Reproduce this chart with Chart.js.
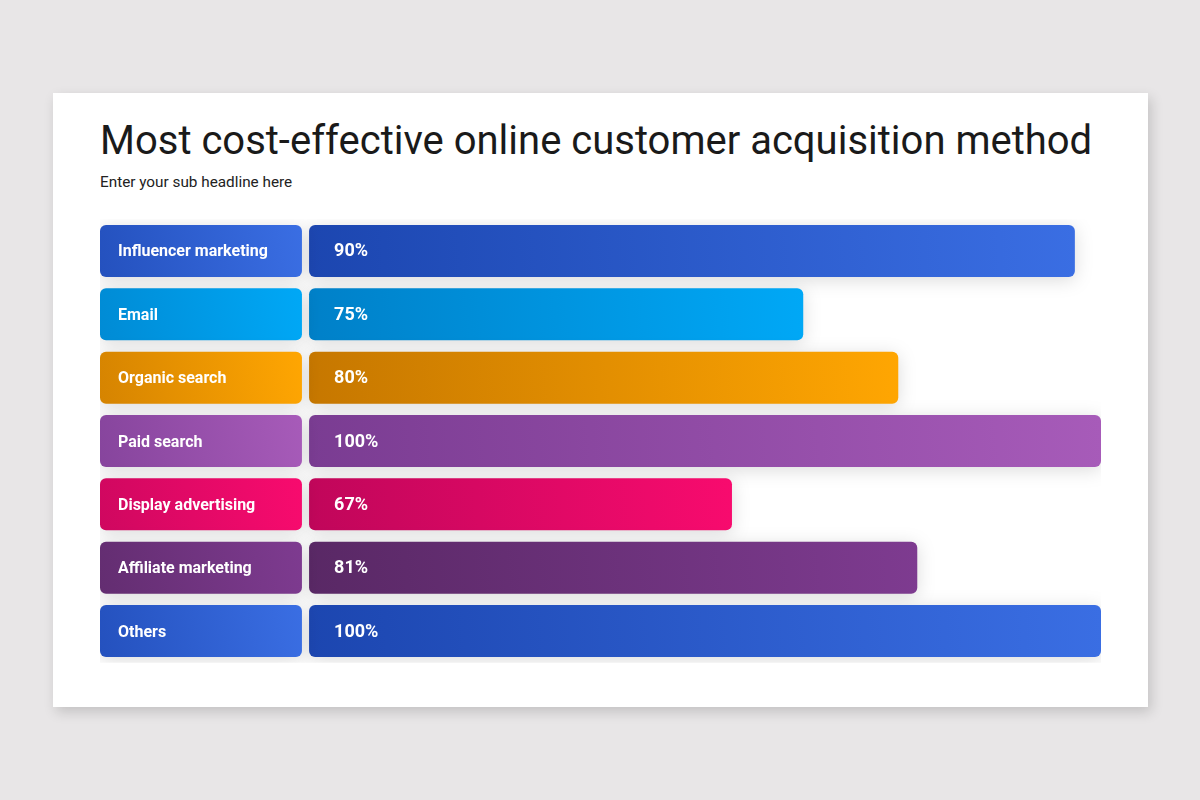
<!DOCTYPE html>
<html>
<head>
<meta charset="utf-8">
<script src="https://cdn.jsdelivr.net/npm/chart.js@4"></script>
<style>
  html, body { margin: 0; padding: 0; width: 1200px; height: 800px; background: #e8e6e7; overflow: hidden; }
  #card { position: absolute; left: 53px; top: 93px; width: 1095px; height: 614px; background: #ffffff;
          box-shadow: 3px 5px 12px rgba(0,0,0,0.16); }
  #title { position: absolute; left: 100px; top: 117px; font-family: Roboto, sans-serif; font-weight: 400;
           font-size: 40px; line-height: 48px; color: #1a1a1a; white-space: nowrap; }
  #subtitle { position: absolute; left: 100px; top: 172px; font-family: Roboto, sans-serif; font-weight: 400;
              font-size: 15.3px; line-height: 20px; color: #222; white-space: nowrap; }
  #wrap { position: absolute; left: 0; top: 0; width: 1200px; height: 800px; }
</style>
</head>
<body>
<div id="card"></div>
<div id="title">Most cost-effective online customer acquisition method</div>
<div id="subtitle">Enter your sub headline here</div>
<div id="wrap"><canvas id="c" width="1200" height="800"></canvas></div>
<script>
// ---- data ----
const CATEGORIES = ['Influencer marketing', 'Email', 'Organic search', 'Paid search', 'Display advertising', 'Affiliate marketing', 'Others'];
const VALUE_LABELS = ['90%', '75%', '80%', '100%', '67%', '81%', '100%'];
const BAR_LENGTHS = [96.7, 62.4, 74.4, 100, 53.4, 76.8, 100];
const COLORS_DARK  = ['#1c46b0', '#0080c8', '#c67700', '#7a3c92', '#c0065a', '#592865', '#1c46b0'];
const COLORS_LIGHT = ['#3a6ee3', '#00a8f6', '#ffa602', '#a75bb9', '#f80b6e', '#7e3b90', '#3a6ee3'];

// ---- layout constants ----
const AXIS_MIN = -26.4;
const LABEL_BOX = [-26.4, -0.9];

const labelBoxData = CATEGORIES.map(() => LABEL_BOX.slice());
const valueData = BAR_LENGTHS.map(v => [0, v]);

function makeFill(extendLeft) {
  return function (ctx) {
    const i = ctx.dataIndex;
    if (ctx.type !== 'data') return COLORS_DARK[0];
    const chart = ctx.chart;
    if (!chart.chartArea) return COLORS_DARK[i];
    const xs = chart.scales.x, ys = chart.scales.y;
    const raw = ctx.raw;
    const x0 = xs.getPixelForValue(raw[0]) - extendLeft;
    const x1 = xs.getPixelForValue(raw[1]);
    const yc = ys.getPixelForValue(i);
    const g = chart.ctx.createLinearGradient(x0, yc + 26, x1, yc - 26);
    g.addColorStop(0, COLORS_DARK[i]);
    g.addColorStop(1, COLORS_LIGHT[i]);
    return g;
  };
}

const shadowPlugin = {
  id: 'barShadow',
  beforeDatasetsDraw(chart) {
    const c = chart.ctx;
    c.save();
    c.shadowColor = 'rgba(0,0,0,0.14)';
    c.shadowBlur = 18;
    c.shadowOffsetX = 0;
    c.shadowOffsetY = 3;
  },
  afterDatasetsDraw(chart) {
    chart.ctx.restore();
    const c = chart.ctx;
    const meta = chart.getDatasetMeta(1);
    c.save();
    c.fillStyle = '#ffffff';
    c.font = 'bold 18px Roboto, sans-serif';
    c.textBaseline = 'middle';
    c.textAlign = 'left';
    meta.data.forEach((el, i) => {
      c.fillText(VALUE_LABELS[i], el.base + 25, el.y + 1);
    });
    c.restore();
  }
};

new Chart(document.getElementById('c'), {
  type: 'bar',
  data: {
    labels: CATEGORIES,
    datasets: [
      {
        label: 'Method',
        data: labelBoxData,
        backgroundColor: makeFill(80),
        borderRadius: 6,
        borderSkipped: false,
        grouped: false,
        barPercentage: 0.821,
        categoryPercentage: 1
      },
      {
        label: 'Share',
        data: valueData,
        backgroundColor: makeFill(0),
        borderRadius: 6,
        borderSkipped: false,
        grouped: false,
        barPercentage: 0.821,
        categoryPercentage: 1
      }
    ]
  },
  options: {
    indexAxis: 'y',
    responsive: false,
    animation: false,
    devicePixelRatio: 1,
    layout: { padding: { left: 100, right: 99, top: 219.3, bottom: 137.3 } },
    plugins: { legend: { display: false }, tooltip: { enabled: false } },
    scales: {
      x: {
        type: 'linear',
        min: AXIS_MIN,
        max: 100,
        display: false
      },
      y: {
        type: 'category',
        afterFit(scale) { scale.width = 0; },
        grid: { display: false, drawTicks: false },
        border: { display: false },
        ticks: {
          mirror: true,
          padding: 18,
          labelOffset: 1.5,
          z: 1,
          color: '#ffffff',
          font: { family: 'Roboto, sans-serif', weight: 'bold', size: 16 }
        }
      }
    }
  },
  plugins: [shadowPlugin]
});
</script>
</body>
</html>
